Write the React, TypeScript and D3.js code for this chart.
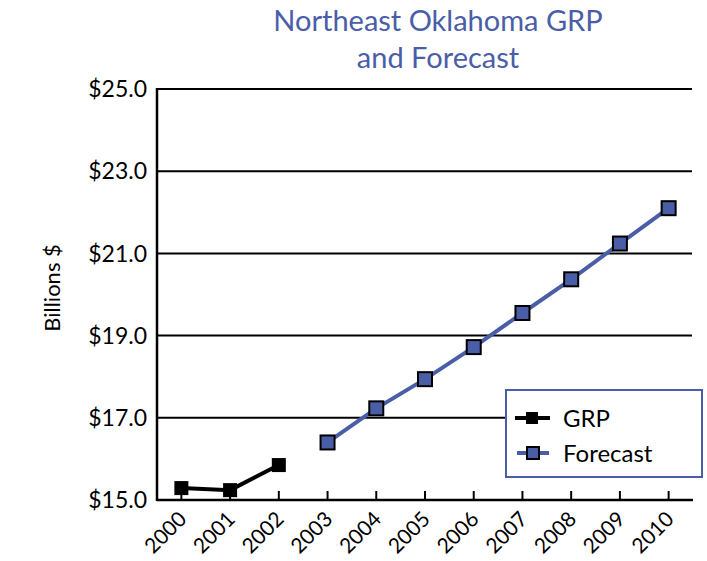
import React from "react";
import * as d3 from "d3";

const years = ["2000","2001","2002","2003","2004","2005","2006","2007","2008","2009","2010"];
const grpYears = ["2000","2001","2002"];
const grpValues = [15.29, 15.24, 15.85];
const forecastYears = ["2003","2004","2005","2006","2007","2008","2009","2010"];
const forecastValues = [16.40, 17.23, 17.94, 18.72, 19.55, 20.37, 21.24, 22.10];
const yTicks = [15, 17, 19, 21, 23, 25];
const titleLines = ["Northeast Oklahoma GRP", "and Forecast"];
const legendLabels = ["GRP", "Forecast"];

const W = 707, H = 561;
const left = 157, right = 693, top = 89, bottom = 500;
const BLUE = "#4a5ea8";
const FONT = "Lato, 'Open Sans', sans-serif";

export default function App() {
  const x = d3.scalePoint<string>().domain(years).range([left, right]).padding(0.5);
  const y = d3.scaleLinear().domain([15, 25]).range([bottom, top]);
  const line = d3.line<[string, number]>().x(d => x(d[0])!).y(d => y(d[1]));
  const grp = grpYears.map((yr, i) => [yr, grpValues[i]] as [string, number]);
  const fc = forecastYears.map((yr, i) => [yr, forecastValues[i]] as [string, number]);
  const ms = 14;

  return (
    <svg width={W} height={H} style={{ position: "absolute", left: 0, top: 0 }} fontFamily={FONT}>
      <rect width={W} height={H} fill="#fff" />
      {titleLines.map((t, i) => (
        <text key={t} x={438} y={31 + i * 37} textAnchor="middle" fill={BLUE} fontSize={29}>{t}</text>
      ))}
      {yTicks.filter(v => v !== 15).map(v => (
        <line key={v} x1={left} x2={right - 1} y1={y(v)} y2={y(v)} stroke="#000" strokeWidth={2} />
      ))}
      {yTicks.map(v => (
        <text key={"l" + v} x={147} y={y(v)} dy="0.36em" textAnchor="end" fontSize={23} fill="#000">
          {"$" + v.toFixed(1)}
        </text>
      ))}
      <line x1={left} x2={left} y1={top - 1} y2={bottom + 1} stroke="#000" strokeWidth={2.5} />
      <line x1={left} x2={right} y1={bottom} y2={bottom} stroke="#000" strokeWidth={2.5} />
      {years.map(yr => (
        <g key={yr}>
          <line x1={x(yr)} x2={x(yr)} y1={bottom} y2={bottom - 9} stroke="#000" strokeWidth={2} />
          <text transform={`translate(${x(yr)! - 4},${bottom + 10}) rotate(-45)`} textAnchor="end" dy="0.7em" fontSize={21} fill="#000">{yr}</text>
        </g>
      ))}
      <text transform={`translate(60,288) rotate(-90)`} textAnchor="middle" fontSize={22} fill="#000">Billions $</text>

      <path d={line(grp)!} fill="none" stroke="#000" strokeWidth={4} />
      {grp.map(d => (
        <rect key={d[0]} x={x(d[0])! - ms / 2} y={y(d[1]) - ms / 2} width={ms} height={ms} fill="#000" />
      ))}
      <path d={line(fc)!} fill="none" stroke={BLUE} strokeWidth={4} />
      {fc.map(d => (
        <rect key={d[0]} x={x(d[0])! - ms / 2} y={y(d[1]) - ms / 2} width={ms} height={ms} fill={BLUE} stroke="#000" strokeWidth={2} />
      ))}

      <rect x={506} y={390} width={196} height={87} fill="#fff" stroke={BLUE} strokeWidth={2} />
      <g>
        <line x1={515} x2={550} y1={418} y2={418} stroke="#000" strokeWidth={4} />
        <rect x={532 - 6} y={418 - 6} width={12} height={12} fill="#000" />
        <text x={563} y={418} dy="0.36em" fontSize={24} fill="#000">{legendLabels[0]}</text>
        <line x1={517} x2={549} y1={453} y2={453} stroke={BLUE} strokeWidth={4} />
        <rect x={533 - 6} y={453 - 6} width={12} height={12} fill={BLUE} stroke="#000" strokeWidth={2} />
        <text x={563} y={453} dy="0.36em" fontSize={24} fill="#000">{legendLabels[1]}</text>
      </g>
    </svg>
  );
}
